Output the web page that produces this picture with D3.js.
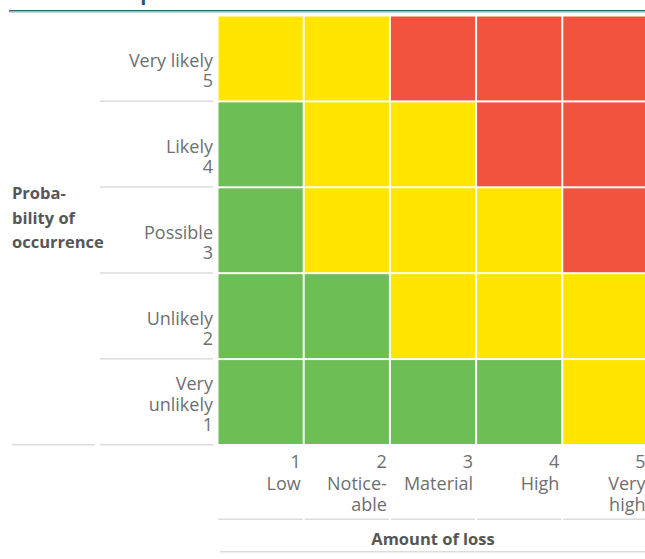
<!DOCTYPE html>
<html>
<head>
<meta charset="utf-8">
<script src="https://cdn.jsdelivr.net/npm/d3@7"></script>
<style>
  html, body { margin: 0; padding: 0; background: #fff; }
  svg { display: block; }
  text { opacity: 0.99; }
  .lbl { font-family: "Open Sans", sans-serif; font-weight: 400; fill: #6e6e6e; font-size: 18px; }
  .bold { font-family: "Open Sans", sans-serif; font-weight: 700; fill: #555; font-size: 16.5px; }
</style>
</head>
<body>
<div id="chart"></div>
<script>
// data
const lossLevels = [1, 2, 3, 4, 5];
const lossNames = [["Low"], ["Notice-", "able"], ["Material"], ["High"], ["Very", "high"]];
const probLevels = [5, 4, 3, 2, 1];
const probNames = [["Very likely"], ["Likely"], ["Possible"], ["Unlikely"], ["Very", "unlikely"]];
// risk class per cell, rows = probability 5..1, cols = loss 1..5
const riskGrid = [
    ["mid", "mid", "high", "high", "high"],
    ["low", "mid", "mid", "high", "high"],
    ["low", "mid", "mid", "mid", "high"],
    ["low", "low", "mid", "mid", "mid"],
    ["low", "low", "low", "low", "mid"]
];
const riskColor = { low: "#6dbe54", mid: "#ffe500", high: "#f2533d" };

const width = 645, height = 559;

const svg = d3.select("#chart")
    .append("svg")
    .attr("width", width)
    .attr("height", height);

// clipped title and rule at top
svg.append("text")
    .attr("x", 153)
    .attr("y", 0)
    .attr("text-anchor", "end")
    .attr("font-family", "Open Sans, sans-serif")
    .attr("font-weight", 700)
    .attr("font-size", 20)
    .attr("fill", "#1f5a6e")
    .text("Risk map");
svg.append("rect")
    .attr("x", 9).attr("y", 10)
    .attr("width", width - 9).attr("height", 1.5)
    .attr("fill", "#2f6b7d");
svg.append("rect")
    .attr("x", 9).attr("y", 11.5)
    .attr("width", width - 9).attr("height", 1)
    .attr("fill", "#8fb3bf");

// scales
const x = d3.scaleBand()
    .domain(lossLevels)
    .range([218.5, 647.5])
    .paddingInner(0.023);
const y = d3.scaleBand()
    .domain(probLevels)
    .range([16.5, 444])
    .paddingInner(0.023);
const gapY = y.step() - y.bandwidth();

// cells
const cells = [];
probLevels.forEach((p, i) => {
    lossLevels.forEach((l, j) => {
        cells.push({ p: p, l: l, risk: riskGrid[i][j] });
    });
});
svg.selectAll("rect.cell")
    .data(cells)
    .enter()
    .append("rect")
    .attr("class", "cell")
    .attr("x", d => x(d.l))
    .attr("y", d => y(d.p))
    .attr("width", x.bandwidth())
    .attr("height", y.bandwidth())
    .attr("fill", d => riskColor[d.risk]);

// left row labels
const lineH = 20.5;
probLevels.forEach((p, i) => {
    const lines = probNames[i].concat([String(p)]);
    const bottom = y(p) + y.bandwidth() - 13;
    const t = svg.append("text")
        .attr("class", "lbl")
        .attr("text-anchor", "end");
    lines.forEach((s, k) => {
        t.append("tspan")
            .attr("x", 213)
            .attr("y", bottom - (lines.length - 1 - k) * lineH)
            .text(s);
    });
    // separator under each row
    svg.append("rect")
        .attr("x", 100)
        .attr("y", y(p) + y.bandwidth() + gapY / 2 - 1)
        .attr("width", 113)
        .attr("height", 1.5)
        .attr("fill", "#dcdcdc");
});
svg.append("rect")
    .attr("x", 12)
    .attr("y", y(1) + y.bandwidth() + gapY / 2 - 1)
    .attr("width", 83)
    .attr("height", 1.5)
    .attr("fill", "#dcdcdc");

// left axis title
const pt = svg.append("text").attr("class", "bold");
["Proba-", "bility of", "occurrence"].forEach((s, k) => {
    pt.append("tspan").attr("x", 12).attr("y", 199 + k * 24.5).text(s);
});

// bottom column labels
lossLevels.forEach((l, j) => {
    const lines = [String(l)].concat(lossNames[j]);
    const t = svg.append("text")
        .attr("class", "lbl")
        .attr("text-anchor", "end");
    lines.forEach((s, k) => {
        t.append("tspan")
            .attr("x", x(l) + x.bandwidth() - 2)
            .attr("y", 468 + k * 21.5)
            .text(s);
    });
    svg.append("rect")
        .attr("x", x(l))
        .attr("y", 518.5)
        .attr("width", x.bandwidth())
        .attr("height", 1.5)
        .attr("fill", "#dcdcdc");
});

// bottom axis title
svg.append("text")
    .attr("class", "bold")
    .attr("x", 433)
    .attr("y", 545)
    .attr("text-anchor", "middle")
    .text("Amount of loss");
svg.append("rect")
    .attr("x", 220)
    .attr("y", 551)
    .attr("width", width - 220)
    .attr("height", 1.5)
    .attr("fill", "#dcdcdc");
</script>
</body>
</html>
